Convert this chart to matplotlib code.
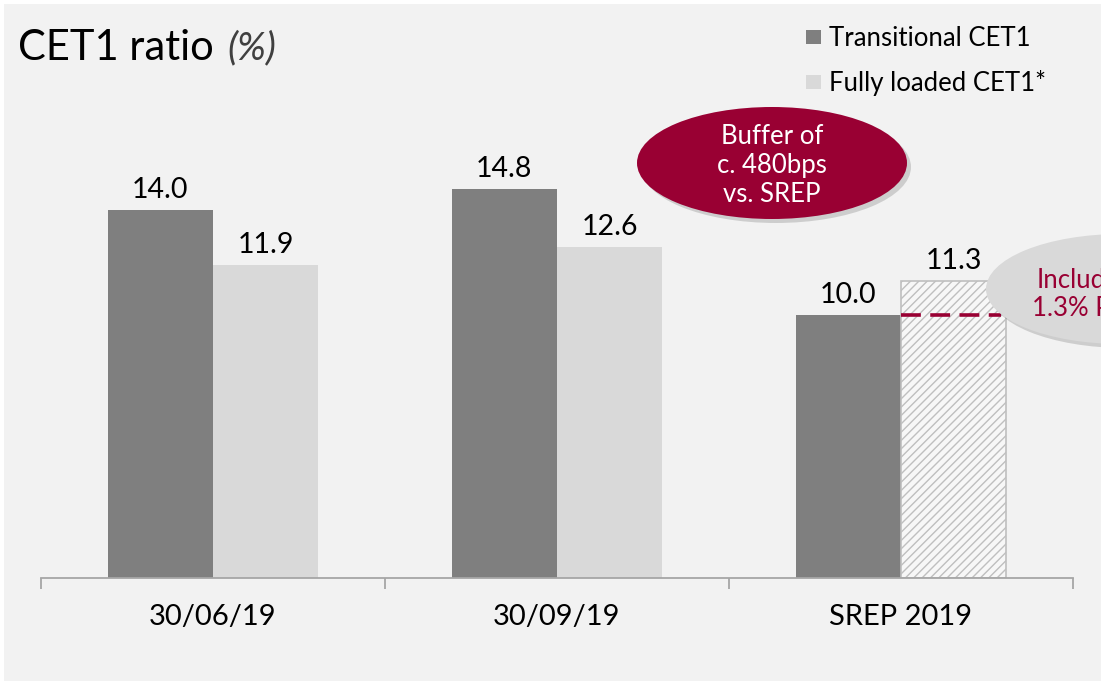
import matplotlib
matplotlib.use('Agg')
import matplotlib.pyplot as plt
from matplotlib.patches import Ellipse, Rectangle
import numpy as np

plt.rcParams['font.family'] = ['Lato', 'DejaVu Sans']
plt.rcParams['hatch.color'] = '#c8c8c8'

categories   = ['30/06/19', '30/09/19', 'SREP 2019']
transitional = [14.0, 14.8, 10.0]
fully_loaded = [11.9, 12.6, 11.3]
series_names = ['Transitional CET1', 'Fully loaded CET1*']
srep_p2g_base = 10.0   # dashed line inside the SREP bar

DARK  = '#7f7f7f'
LIGHT = '#d9d9d9'
BG    = '#f2f2f2'
RED   = '#990033'

W, H = 1101, 683
fig = plt.figure(figsize=(W / 100, H / 100), dpi=100, facecolor='white')
fig.patches.append(Rectangle((4 / W, 2 / H), 1, 677 / H, transform=fig.transFigure,
                             facecolor=BG, edgecolor='none', zorder=-10))

# axes: baseline at y=578 px, x from 41 to 1073 px
ax = fig.add_axes([41 / W, (H - 578) / H, (1073 - 41) / W, 478 / H])
ax.set_facecolor('none')
ax.set_ylim(0, 478 / 26.3)
ax.set_xlim(-0.5, len(categories) - 0.5)

x = np.arange(len(categories))
bw = 0.306
ax.bar(x - bw / 2, transitional, bw, color=DARK, zorder=2)
ax.bar(x[:2] + bw / 2, fully_loaded[:2], bw, color=LIGHT, zorder=2)
ax.bar(x[2] + bw / 2, fully_loaded[2], bw, facecolor='#f7f7f7', edgecolor='#bfbfbf',
       hatch='////', lw=1.2, zorder=2)

for xi, v in zip(x, transitional):
    ax.annotate(f'{v:.1f}', (xi - bw / 2, v), xytext=(0, 5), textcoords='offset points',
                ha='center', va='bottom', fontsize=20.5, color='black')
for xi, v in zip(x, fully_loaded):
    ax.annotate(f'{v:.1f}', (xi + bw / 2, v), xytext=(0, 5), textcoords='offset points',
                ha='center', va='bottom', fontsize=20.5, color='black')

# dashed P2G line across the SREP fully loaded bar
ax.plot([x[2], x[2] + bw * 0.95], [srep_p2g_base, srep_p2g_base], color=RED, lw=2.6,
        ls=(0, (5.5, 2.6)), zorder=3)

for s in ['top', 'right', 'left']:
    ax.spines[s].set_visible(False)
ax.spines['bottom'].set_color('#a6a6a6')
ax.spines['bottom'].set_linewidth(1.3)
ax.set_yticks([])
ax.set_xticks(np.arange(-0.5, len(categories)), labels=[''] * (len(categories) + 1))
ax.tick_params(axis='x', which='major', length=8, width=1.3, color='#a6a6a6', direction='out')
ax.set_xticks(x, minor=True)
ax.set_xticklabels(categories, minor=True, fontsize=21)
ax.tick_params(axis='x', which='minor', length=0, pad=19)

# title
fig.text(18 / W, 1 - 48 / H, 'CET1 ratio', fontsize=30, va='center', ha='left', color='black')
fig.text(227 / W, 1 - 48 / H, '(%)', fontsize=28, va='center', ha='left', color='#404040',
         style='italic', fontweight='normal')

# legend
for i, (name, c) in enumerate(zip(series_names, [DARK, LIGHT])):
    yc = 38 + i * 45
    fig.patches.append(Rectangle((806 / W, 1 - (yc + 6) / H), 15 / W, 14 / H,
                                 transform=fig.transFigure, facecolor=c, edgecolor='none'))
    fig.text(829 / W, 1 - yc / H, name, fontsize=18.5, va='center', ha='left', color='black')

def ellipse(cx, cy, w, h, color):
    fig.patches.append(Ellipse(((cx + 4) / W, 1 - (cy + 4) / H), w / W, h / H,
                               transform=fig.transFigure, facecolor='#000000', alpha=0.15,
                               edgecolor='none', zorder=4))
    fig.patches.append(Ellipse((cx / W, 1 - cy / H), w / W, h / H,
                               transform=fig.transFigure, facecolor=color,
                               edgecolor='none', zorder=5))

# red callout
ellipse(772, 163, 270, 112, RED)
fig.text(772 / W, 1 - 165 / H, 'Buffer of\nc. 480bps\nvs. SREP', fontsize=18.5, color='white',
         ha='center', va='center', linespacing=1.2, zorder=6)

# grey callout (runs off the right edge, as in the source slide)
ellipse(1121, 289, 270, 110, '#d9d9d9')
fig.text(1037 / W, 1 - 280 / H, 'Includes', fontsize=18.5, color=RED,
         ha='left', va='center', zorder=6)
fig.text(1032 / W, 1 - 308 / H, '1.3% P2R', fontsize=18.5, color=RED,
         ha='left', va='center', zorder=6)

fig.savefig('out.png', dpi=100, facecolor=fig.get_facecolor())
